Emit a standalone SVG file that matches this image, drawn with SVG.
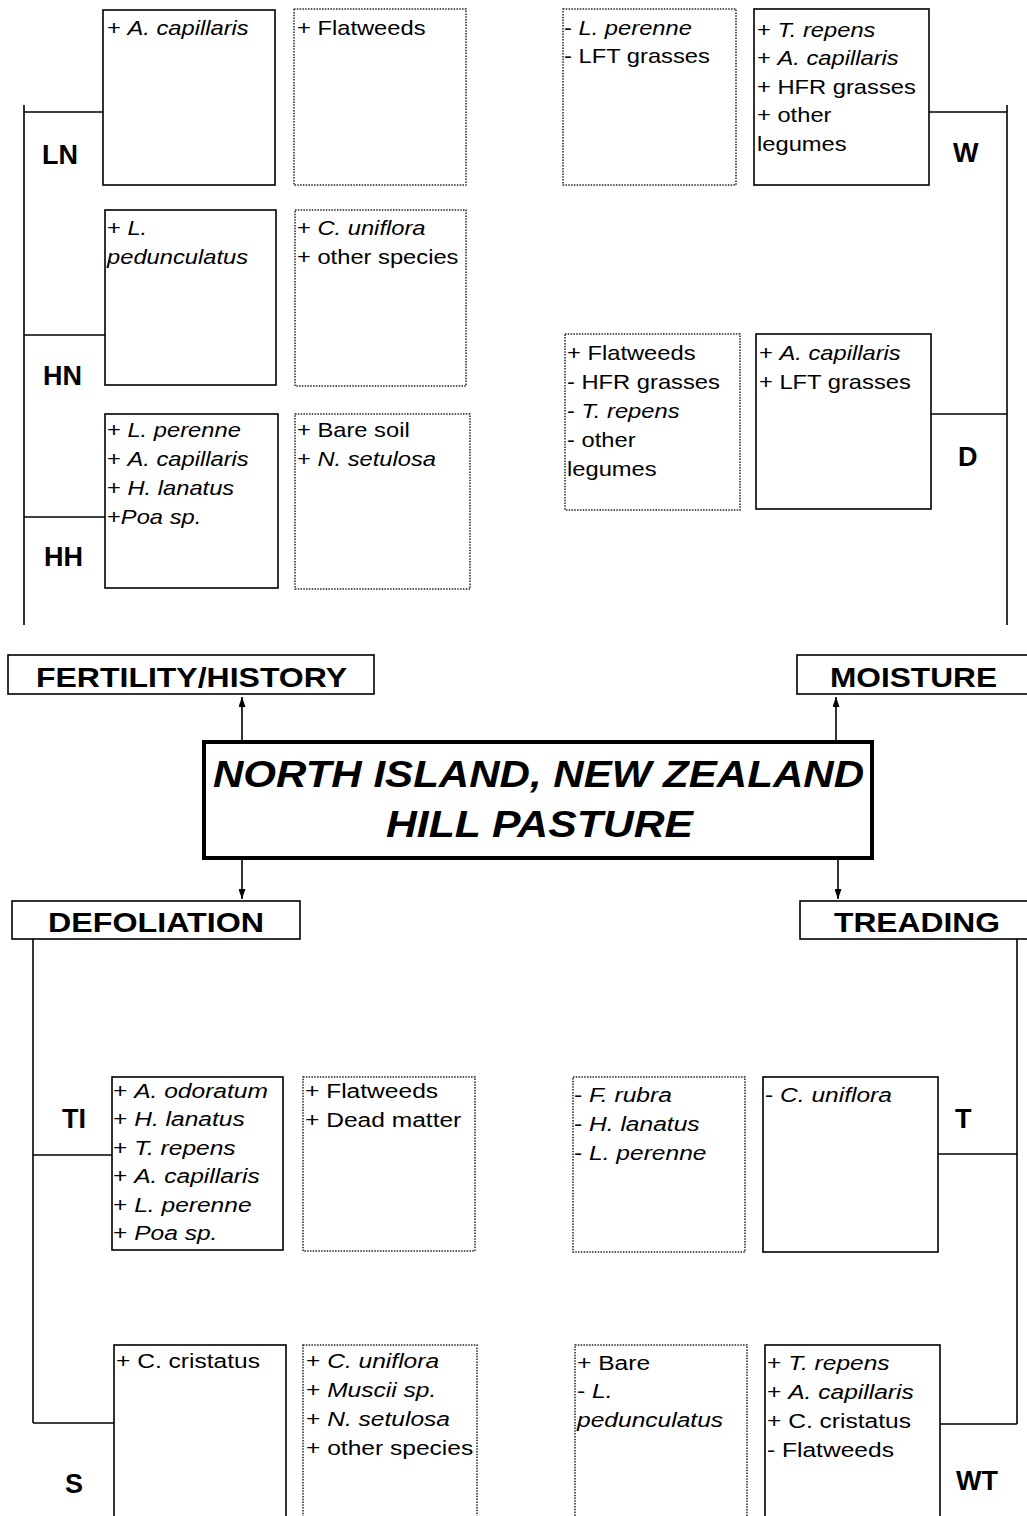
<svg xmlns="http://www.w3.org/2000/svg" width="1027" height="1516" viewBox="0 0 1027 1516">
<defs>
<style>
.bg{fill:#fff}
.sb{fill:#fff;stroke:#000;stroke-width:1.6}
.db{fill:#fff;stroke:#222;stroke-width:1.5;stroke-dasharray:1.5 1.3}
.hb{fill:#fff;stroke:#000;stroke-width:1.6}
.t{font-family:"Liberation Sans",Arial,sans-serif;font-size:21px;fill:#000}
.i{font-style:italic}
.lab{font-family:"Liberation Sans",Arial,sans-serif;font-size:27px;font-weight:bold;fill:#000}
.hd{font-family:"Liberation Sans",Arial,sans-serif;font-size:28px;font-weight:bold;fill:#000}
.ti{font-family:"Liberation Sans",Arial,sans-serif;font-size:37px;font-weight:bold;font-style:italic;fill:#000}
.ln{fill:none;stroke:#000;stroke-width:1.6}
</style>
<marker id="ah" viewBox="0 0 10 7" refX="10" refY="3.5" markerWidth="10" markerHeight="7" markerUnits="userSpaceOnUse" orient="auto" preserveAspectRatio="none">
<path d="M0,0 L10,3.5 L0,7 z" fill="#000"/>
</marker>
</defs>
<rect class="bg" x="0" y="0" width="1027" height="1516"/>

<g id="connectors">
<!-- top-left bracket -->
<path class="ln" d="M24,105 V625"/>
<path class="ln" d="M24,112 H103"/>
<path class="ln" d="M24,335 H105"/>
<path class="ln" d="M24,517 H105"/>
<!-- top-right bracket -->
<path class="ln" d="M1007,105 V625"/>
<path class="ln" d="M929,112 H1007"/>
<path class="ln" d="M931,414 H1007"/>
<!-- bottom-left bracket -->
<path class="ln" d="M33,939 V1423"/>
<path class="ln" d="M33,1155 H112"/>
<path class="ln" d="M33,1423 H114"/>
<!-- bottom-right bracket -->
<path class="ln" d="M1017,939 V1424"/>
<path class="ln" d="M938,1154 H1017"/>
<path class="ln" d="M940,1424 H1017"/>
<!-- arrows from centre -->
<path class="ln" d="M242,740 V697" marker-end="url(#ah)"/>
<path class="ln" d="M836,740 V697" marker-end="url(#ah)"/>
<path class="ln" d="M242,860 V899" marker-end="url(#ah)"/>
<path class="ln" d="M838,860 V899" marker-end="url(#ah)"/>
</g>

<g id="centre">
<rect x="204" y="742" width="668" height="116" fill="#fff" stroke="#000" stroke-width="4"/>
<text class="ti" x="213" y="787" textLength="651" lengthAdjust="spacingAndGlyphs">NORTH ISLAND, NEW ZEALAND</text>
<text class="ti" x="386" y="837" textLength="307" lengthAdjust="spacingAndGlyphs">HILL PASTURE</text>
</g>

<g id="fertility">
<rect class="hb" x="8" y="655" width="366" height="39"/>
<text class="hd" x="36" y="687" textLength="311" lengthAdjust="spacingAndGlyphs">FERTILITY/HISTORY</text>
</g>
<g id="moisture">
<rect class="hb" x="797" y="655" width="240" height="39"/>
<text class="hd" x="830" y="687" textLength="167" lengthAdjust="spacingAndGlyphs">MOISTURE</text>
</g>
<g id="defoliation">
<rect class="hb" x="12" y="901" width="288" height="38"/>
<text class="hd" x="48" y="932" textLength="216" lengthAdjust="spacingAndGlyphs">DEFOLIATION</text>
</g>
<g id="treading">
<rect class="hb" x="800" y="901" width="240" height="38"/>
<text class="hd" x="834" y="932" textLength="166" lengthAdjust="spacingAndGlyphs">TREADING</text>
</g>

<!-- labels -->
<g id="label-LN"><text class="lab" x="42" y="164">LN</text></g>
<g id="label-HN"><text class="lab" x="43" y="385">HN</text></g>
<g id="label-HH"><text class="lab" x="44" y="566">HH</text></g>
<g id="label-W"><text class="lab" x="953" y="162">W</text></g>
<g id="label-D"><text class="lab" x="958" y="466">D</text></g>
<g id="label-TI"><text class="lab" x="62" y="1128">TI</text></g>
<g id="label-S"><text class="lab" x="65" y="1493">S</text></g>
<g id="label-T"><text class="lab" x="955" y="1128">T</text></g>
<g id="label-WT"><text class="lab" x="956" y="1490">WT</text></g>

<!-- top-left -->
<g id="LN-plus">
<rect class="sb" x="103" y="10" width="172" height="175"/>
<text class="t" transform="translate(107 35) scale(1.13 1)">+ <tspan class="i">A. capillaris</tspan></text>
</g>
<g id="LN-minus">
<rect class="db" x="294" y="9" width="172" height="176"/>
<text class="t" transform="translate(297 35) scale(1.13 1)">+ Flatweeds</text>
</g>
<g id="HN-plus">
<rect class="sb" x="105" y="210" width="171" height="175"/>
<text class="t" transform="translate(107 235) scale(1.13 1)"><tspan x="0" y="0">+ <tspan class="i">L.</tspan></tspan><tspan class="i" x="0" y="29">pedunculatus</tspan></text>
</g>
<g id="HN-minus">
<rect class="db" x="295" y="210" width="171" height="176"/>
<text class="t" transform="translate(297 235) scale(1.13 1)"><tspan x="0" y="0">+ <tspan class="i">C. uniflora</tspan></tspan><tspan x="0" y="29">+ other species</tspan></text>
</g>
<g id="HH-plus">
<rect class="sb" x="105" y="414" width="173" height="174"/>
<text class="t" transform="translate(107 437) scale(1.13 1)"><tspan x="0" y="0">+ <tspan class="i">L. perenne</tspan></tspan><tspan x="0" y="29">+ <tspan class="i">A. capillaris</tspan></tspan><tspan x="0" y="58">+ <tspan class="i">H. lanatus</tspan></tspan><tspan x="0" y="87">+<tspan class="i">Poa sp.</tspan></tspan></text>
</g>
<g id="HH-minus">
<rect class="db" x="295" y="414" width="175" height="175"/>
<text class="t" transform="translate(297 437) scale(1.13 1)"><tspan x="0" y="0">+ Bare soil</tspan><tspan x="0" y="29">+ <tspan class="i">N. setulosa</tspan></tspan></text>
</g>

<!-- top-right -->
<g id="W-minus">
<rect class="db" x="563" y="9" width="173" height="176"/>
<text class="t" transform="translate(564 35) scale(1.13 1)"><tspan x="0" y="0">- <tspan class="i">L. perenne</tspan></tspan><tspan x="0" y="28">- LFT grasses</tspan></text>
</g>
<g id="W-plus">
<rect class="sb" x="754" y="9" width="175" height="176"/>
<text class="t" transform="translate(757 37) scale(1.13 1)"><tspan x="0" y="0">+ <tspan class="i">T. repens</tspan></tspan><tspan x="0" y="28.5">+ <tspan class="i">A. capillaris</tspan></tspan><tspan x="0" y="57">+ HFR grasses</tspan><tspan x="0" y="85.5">+ other</tspan><tspan x="0" y="114">legumes</tspan></text>
</g>
<g id="D-minus">
<rect class="db" x="565" y="334" width="175" height="176"/>
<text class="t" transform="translate(567 360) scale(1.13 1)"><tspan x="0" y="0">+ Flatweeds</tspan><tspan x="0" y="29">- HFR grasses</tspan><tspan x="0" y="58">- <tspan class="i">T. repens</tspan></tspan><tspan x="0" y="87">- other</tspan><tspan x="0" y="116">legumes</tspan></text>
</g>
<g id="D-plus">
<rect class="sb" x="756" y="334" width="175" height="175"/>
<text class="t" transform="translate(759 360) scale(1.13 1)"><tspan x="0" y="0">+ <tspan class="i">A. capillaris</tspan></tspan><tspan x="0" y="29">+ LFT grasses</tspan></text>
</g>

<!-- bottom-left -->
<g id="TI-plus">
<rect class="sb" x="112" y="1077" width="171" height="173"/>
<text class="t" transform="translate(113 1098) scale(1.17 1)"><tspan x="0" y="0">+ <tspan class="i">A. odoratum</tspan></tspan><tspan x="0" y="28.5">+ <tspan class="i">H. lanatus</tspan></tspan><tspan x="0" y="57">+ <tspan class="i">T. repens</tspan></tspan><tspan x="0" y="85.5">+ <tspan class="i">A. capillaris</tspan></tspan><tspan x="0" y="114">+ <tspan class="i">L. perenne</tspan></tspan><tspan x="0" y="142.5">+ <tspan class="i">Poa sp.</tspan></tspan></text>
</g>
<g id="TI-minus">
<rect class="db" x="303" y="1077" width="172" height="174"/>
<text class="t" transform="translate(305 1098) scale(1.17 1)"><tspan x="0" y="0">+ Flatweeds</tspan><tspan x="0" y="29">+ Dead matter</tspan></text>
</g>
<g id="S-plus">
<rect class="sb" x="114" y="1345" width="172" height="185"/>
<text class="t" transform="translate(116 1368) scale(1.17 1)">+ C. cristatus</text>
</g>
<g id="S-minus">
<rect class="db" x="303" y="1345" width="174" height="185"/>
<text class="t" transform="translate(306 1368) scale(1.17 1)"><tspan x="0" y="0">+ <tspan class="i">C. uniflora</tspan></tspan><tspan x="0" y="29">+ <tspan class="i">Muscii sp.</tspan></tspan><tspan x="0" y="58">+ <tspan class="i">N. setulosa</tspan></tspan><tspan x="0" y="87">+ other species</tspan></text>
</g>

<!-- bottom-right -->
<g id="T-minus">
<rect class="db" x="573" y="1077" width="172" height="175"/>
<text class="t" transform="translate(574 1102) scale(1.17 1)"><tspan x="0" y="0">- <tspan class="i">F. rubra</tspan></tspan><tspan x="0" y="29">- <tspan class="i">H. lanatus</tspan></tspan><tspan x="0" y="58">- <tspan class="i">L. perenne</tspan></tspan></text>
</g>
<g id="T-plus">
<rect class="sb" x="763" y="1077" width="175" height="175"/>
<text class="t" transform="translate(765 1102) scale(1.17 1)">- <tspan class="i">C. uniflora</tspan></text>
</g>
<g id="WT-minus">
<rect class="db" x="575" y="1345" width="172" height="185"/>
<text class="t" transform="translate(577 1370) scale(1.17 1)"><tspan x="0" y="0">+ Bare</tspan><tspan x="0" y="28.5">- <tspan class="i">L.</tspan></tspan><tspan class="i" x="0" y="57">pedunculatus</tspan></text>
</g>
<g id="WT-plus">
<rect class="sb" x="765" y="1345" width="175" height="185"/>
<text class="t" transform="translate(767 1370) scale(1.17 1)"><tspan x="0" y="0">+ <tspan class="i">T. repens</tspan></tspan><tspan x="0" y="29">+ <tspan class="i">A. capillaris</tspan></tspan><tspan x="0" y="58">+ C. cristatus</tspan><tspan x="0" y="87">- Flatweeds</tspan></text>
</g>
</svg>
